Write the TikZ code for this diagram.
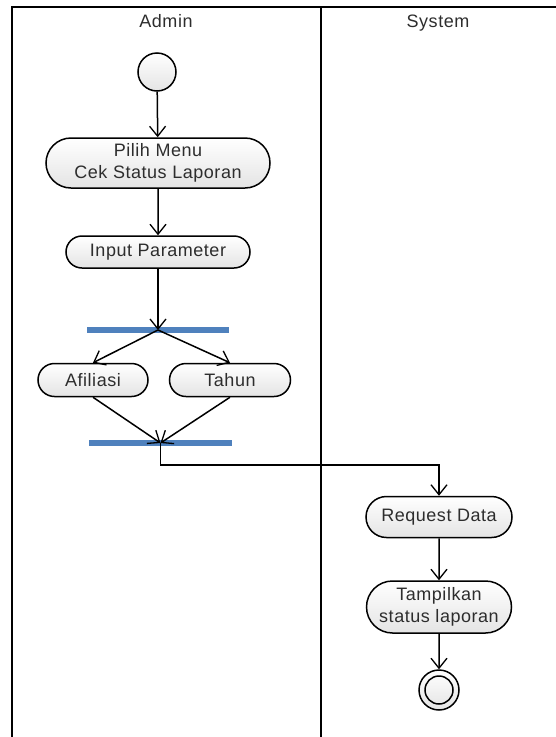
\documentclass[tikz,border=0pt]{standalone}
\usepackage{fontspec}
\setmainfont{Liberation Sans}
\newfontfamily\labelfont[LetterSpace=3]{Liberation Sans}
\usetikzlibrary{arrows.meta,shapes.misc}
\definecolor{barblue}{RGB}{79,129,189}
\definecolor{nodefill}{RGB}{228,228,228}
\definecolor{txt}{RGB}{45,45,45}
\begin{document}
\begin{tikzpicture}[x=1pt,y=-1pt,
  lane/.style={line width=1.6pt},
  lanetitle/.style={text=txt,anchor=base,font=\labelfont\fontsize{18}{22}\selectfont},
  action/.style={rounded rectangle,draw,line width=1.5pt,top color=white,
    bottom color=nodefill,text=txt,align=center,inner sep=0pt,
    font=\labelfont\fontsize{18}{22.5}\selectfont},
  endpoint/.style={circle,draw,line width=1.5pt,top color=white,
    bottom color=nodefill,inner sep=0pt},
  bar/.style={fill=barblue,inner sep=0pt,minimum height=6pt},
  flow/.style={line width=1.5pt,-{Straight Barb[length=10pt,width=16pt,line width=1.3pt]}}]
  \useasboundingbox (0,0) rectangle (556,737);

  % swimlanes
  \draw[lane] (12,737) -- (12,7) -- (556,7);
  \draw[lane] (321,7) -- (321,737);
  \node[lanetitle] (admin) at (166,27) {Admin};
  \node[lanetitle] (system) at (438,27) {System};

  % Admin lane
  \node[endpoint,minimum size=38pt] (start) at (157,72) {};
  \node[action,minimum width=224pt,minimum height=50pt] (menu) at (158,163)
    {Pilih Menu\\Cek Status Laporan};
  \node[action,minimum width=184pt,minimum height=32pt] (param) at (158,252)
    {Input Parameter};
  \node[bar,minimum width=142pt] (fork) at (158,330) {};
  \node[action,minimum width=110pt,minimum height=33pt] (afil) at (93,380) {Afiliasi};
  \node[action,minimum width=121pt,minimum height=33pt] (tahun) at (230,380) {Tahun};
  \node[bar,minimum width=143pt] (join) at (160.5,443) {};

  % System lane
  \node[action,minimum width=146pt,minimum height=41pt] (req) at (439,517)
    {Request Data};
  \node[action,minimum width=145pt,minimum height=52pt] (show) at (439,607)
    {Tampilkan\\status laporan};
  \node[endpoint,minimum size=40pt] (final) at (439,690) {};
  \node[circle,draw,line width=1.5pt,minimum size=28pt,inner sep=0pt] (finalin)
    at (final) {};

  % control flow
  \draw[flow] (start) -- (menu);
  \draw[flow] (menu) -- (param);
  \draw[flow] (param.south) -- (param.south |- fork.center);
  \draw[flow] (fork.center) -- (afil.north);
  \draw[flow] (fork.center) -- (tahun.north);
  \draw[flow] (afil.south) -- (join.center);
  \draw[flow] (tahun.south) -- (join.center);
  \draw[flow] (join.center) -- ++(0,22) -| (req.north);
  \draw[flow] (req) -- (show);
  \draw[flow] (show) -- (final);
\end{tikzpicture}
\end{document}
